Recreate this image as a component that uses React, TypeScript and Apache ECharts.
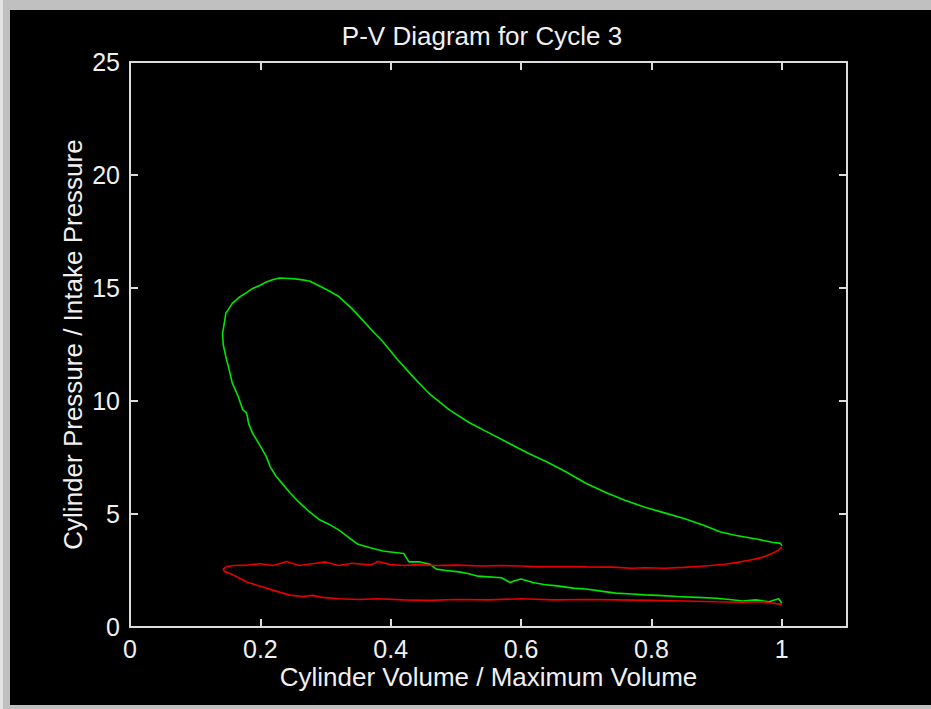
import React, { useEffect, useRef } from "react";
import * as echarts from "echarts";

// Green: compression (lower branch, right to left), combustion peak, expansion (to V=1)
const greenVolume = [
  1.0, 0.995, 0.98, 0.96, 0.94, 0.92, 0.9, 0.87, 0.84, 0.81, 0.79, 0.77, 0.745, 0.72, 0.7, 0.68,
  0.655, 0.635, 0.618, 0.6, 0.59, 0.583, 0.57, 0.55, 0.534, 0.52, 0.505, 0.485, 0.47, 0.46, 0.445,
  0.428, 0.42, 0.4, 0.388, 0.37, 0.35, 0.336, 0.32, 0.305, 0.29, 0.275, 0.26, 0.245, 0.235, 0.224,
  0.215, 0.209, 0.198, 0.188, 0.182, 0.18, 0.178, 0.173, 0.166, 0.157, 0.152, 0.147, 0.143, 0.142,
  0.145, 0.147, 0.152, 0.157, 0.168, 0.18, 0.188, 0.2, 0.209, 0.22, 0.229, 0.245, 0.26, 0.275, 0.29,
  0.305, 0.321, 0.34, 0.357, 0.372, 0.388, 0.41, 0.434, 0.46, 0.49, 0.52, 0.55, 0.58, 0.61, 0.64,
  0.67, 0.7, 0.73, 0.76, 0.79, 0.82, 0.85, 0.88, 0.906, 0.93, 0.963, 0.985, 0.998, 1.0,
];
const greenPressure = [
  1.05, 1.25, 1.12, 1.2, 1.15, 1.22, 1.27, 1.31, 1.35, 1.4, 1.42, 1.46, 1.5, 1.6, 1.68, 1.72,
  1.82, 1.88, 1.97, 2.12, 2.05, 1.97, 2.18, 2.22, 2.25, 2.36, 2.44, 2.5, 2.56, 2.78, 2.88,
  2.88, 3.25, 3.32, 3.36, 3.5, 3.66, 3.95, 4.3, 4.55, 4.76, 5.1, 5.5, 5.95, 6.3, 6.67,
  7.1, 7.55, 8.1, 8.58, 9.0, 9.32, 9.5, 9.61, 10.2, 10.79, 11.4, 11.96, 12.5, 12.99,
  13.5, 13.88, 14.1, 14.32, 14.6, 14.82, 14.98, 15.12, 15.27, 15.38, 15.44, 15.42, 15.38, 15.31, 15.1,
  14.88, 14.61, 14.1, 13.58, 13.1, 12.62, 11.85, 11.08, 10.3, 9.61, 9.05, 8.6, 8.15, 7.7, 7.3,
  6.85, 6.35, 5.95, 5.6, 5.3, 5.05, 4.8, 4.5, 4.2, 4.05, 3.88, 3.75, 3.7, 3.6,
];

// Red: exhaust (upper branch, right to left) then intake (lower branch, left to right)
const redVolume = [
  1.0, 0.995, 0.985, 0.97, 0.95, 0.93, 0.913, 0.89, 0.87, 0.85, 0.82, 0.79, 0.77, 0.74, 0.7, 0.66,
  0.63, 0.6, 0.57, 0.54, 0.5, 0.47, 0.44, 0.42, 0.4, 0.38, 0.37, 0.34, 0.32, 0.3, 0.28, 0.26, 0.24,
  0.22, 0.2, 0.18, 0.16, 0.148, 0.143,
  0.145, 0.155, 0.165, 0.18, 0.2, 0.22, 0.245, 0.265, 0.28, 0.295, 0.32, 0.35, 0.38, 0.42, 0.46,
  0.5, 0.55, 0.6, 0.65, 0.7, 0.75, 0.8, 0.85, 0.9, 0.94, 0.97, 1.0,
];
const redPressure = [
  3.55, 3.4, 3.25, 3.08, 2.95, 2.85, 2.78, 2.72, 2.68, 2.64, 2.6, 2.62, 2.6, 2.65, 2.66, 2.68,
  2.66, 2.7, 2.72, 2.7, 2.74, 2.72, 2.76, 2.72, 2.76, 2.9, 2.75, 2.82, 2.72, 2.88, 2.8, 2.72, 2.9,
  2.72, 2.8, 2.74, 2.72, 2.68, 2.56,
  2.45, 2.35, 2.2, 1.98, 1.8, 1.62, 1.41, 1.35, 1.4, 1.31, 1.25, 1.22, 1.25, 1.2, 1.18,
  1.22, 1.2, 1.25, 1.2, 1.22, 1.2, 1.18, 1.15, 1.12, 1.1, 1.12, 1.0,
];

const AXIS = "#dcdcdc";
const TEXT = "#f0f0f0";
const FONT = "Liberation Sans";

export default function App() {
  const ref = useRef<HTMLDivElement>(null);
  useEffect(() => {
    if (!ref.current) return;
    const chart = echarts.init(ref.current, undefined, { renderer: "svg" });
    const green = greenVolume.map((v, i) => [v, greenPressure[i]]);
    const red = redVolume.map((v, i) => [v, redPressure[i]]);
    const axisCommon = {
      axisLine: { show: true, onZero: false, lineStyle: { color: AXIS, width: 2 } },
      axisTick: { show: true, inside: true, length: 8, lineStyle: { color: AXIS, width: 2 } },
      splitLine: { show: false },
    };
    chart.setOption({
      animation: false,
      backgroundColor: "#c0c0c0",
      graphic: [
        { type: "rect", z: -100, shape: { x: 0, y: 0, width: 3, height: 709 }, style: { fill: "#e4e4e4" } },
        { type: "rect", z: -100, shape: { x: 10, y: 10, width: 921, height: 695 }, style: { fill: "#000" } },
      ],
      title: {
        text: "P-V Diagram for Cycle 3",
        left: 477,
        top: 18,
        textAlign: "center",
        textStyle: { color: TEXT, fontFamily: FONT, fontSize: 26, fontWeight: "normal" },
      },
      grid: { left: 130, top: 62, right: 84, bottom: 82, containLabel: false },
      xAxis: [
        {
          type: "value",
          min: 0,
          max: 1.1,
          interval: 0.2,
          position: "bottom",
          name: "Cylinder Volume / Maximum Volume",
          nameLocation: "middle",
          nameGap: 37,
          nameMoveOverlap: false,
          nameTextStyle: { color: TEXT, fontFamily: FONT, fontSize: 26, verticalAlign: "top" },
          axisLabel: {
            color: TEXT,
            fontFamily: FONT,
            fontSize: 25,
            margin: 9,
            showMaxLabel: false,
            formatter: (v: number) => (v > 1.05 ? "" : String(Math.round(v * 10) / 10)),
          },
          ...axisCommon,
        },
        {
          type: "value",
          min: 0,
          max: 1.1,
          interval: 0.2,
          position: "top",
          axisLabel: { show: false },
          ...axisCommon,
        },
      ],
      yAxis: [
        {
          type: "value",
          min: 0,
          max: 25,
          interval: 5,
          position: "left",
          name: "Cylinder Pressure / Intake Pressure",
          nameLocation: "middle",
          nameGap: 44,
          nameMoveOverlap: false,
          nameTextStyle: { color: TEXT, fontFamily: FONT, fontSize: 26 },
          axisLabel: { color: TEXT, fontFamily: FONT, fontSize: 25, margin: 10 },
          ...axisCommon,
        },
        {
          type: "value",
          min: 0,
          max: 25,
          interval: 5,
          position: "right",
          axisLabel: { show: false },
          ...axisCommon,
        },
      ],
      series: [
        {
          type: "line",
          data: green,
          showSymbol: false,
          symbol: "none",
          lineStyle: { color: "#00e600", width: 1.6 },
          z: 3,
        },
        {
          type: "line",
          data: red,
          showSymbol: false,
          symbol: "none",
          lineStyle: { color: "#e60000", width: 1.6 },
          z: 4,
        },
      ],
    });
    return () => chart.dispose();
  }, []);
  return (
    <div
      ref={ref}
      style={{ position: "fixed", left: 0, top: 0, width: 931, height: 709 }}
    />
  );
}
